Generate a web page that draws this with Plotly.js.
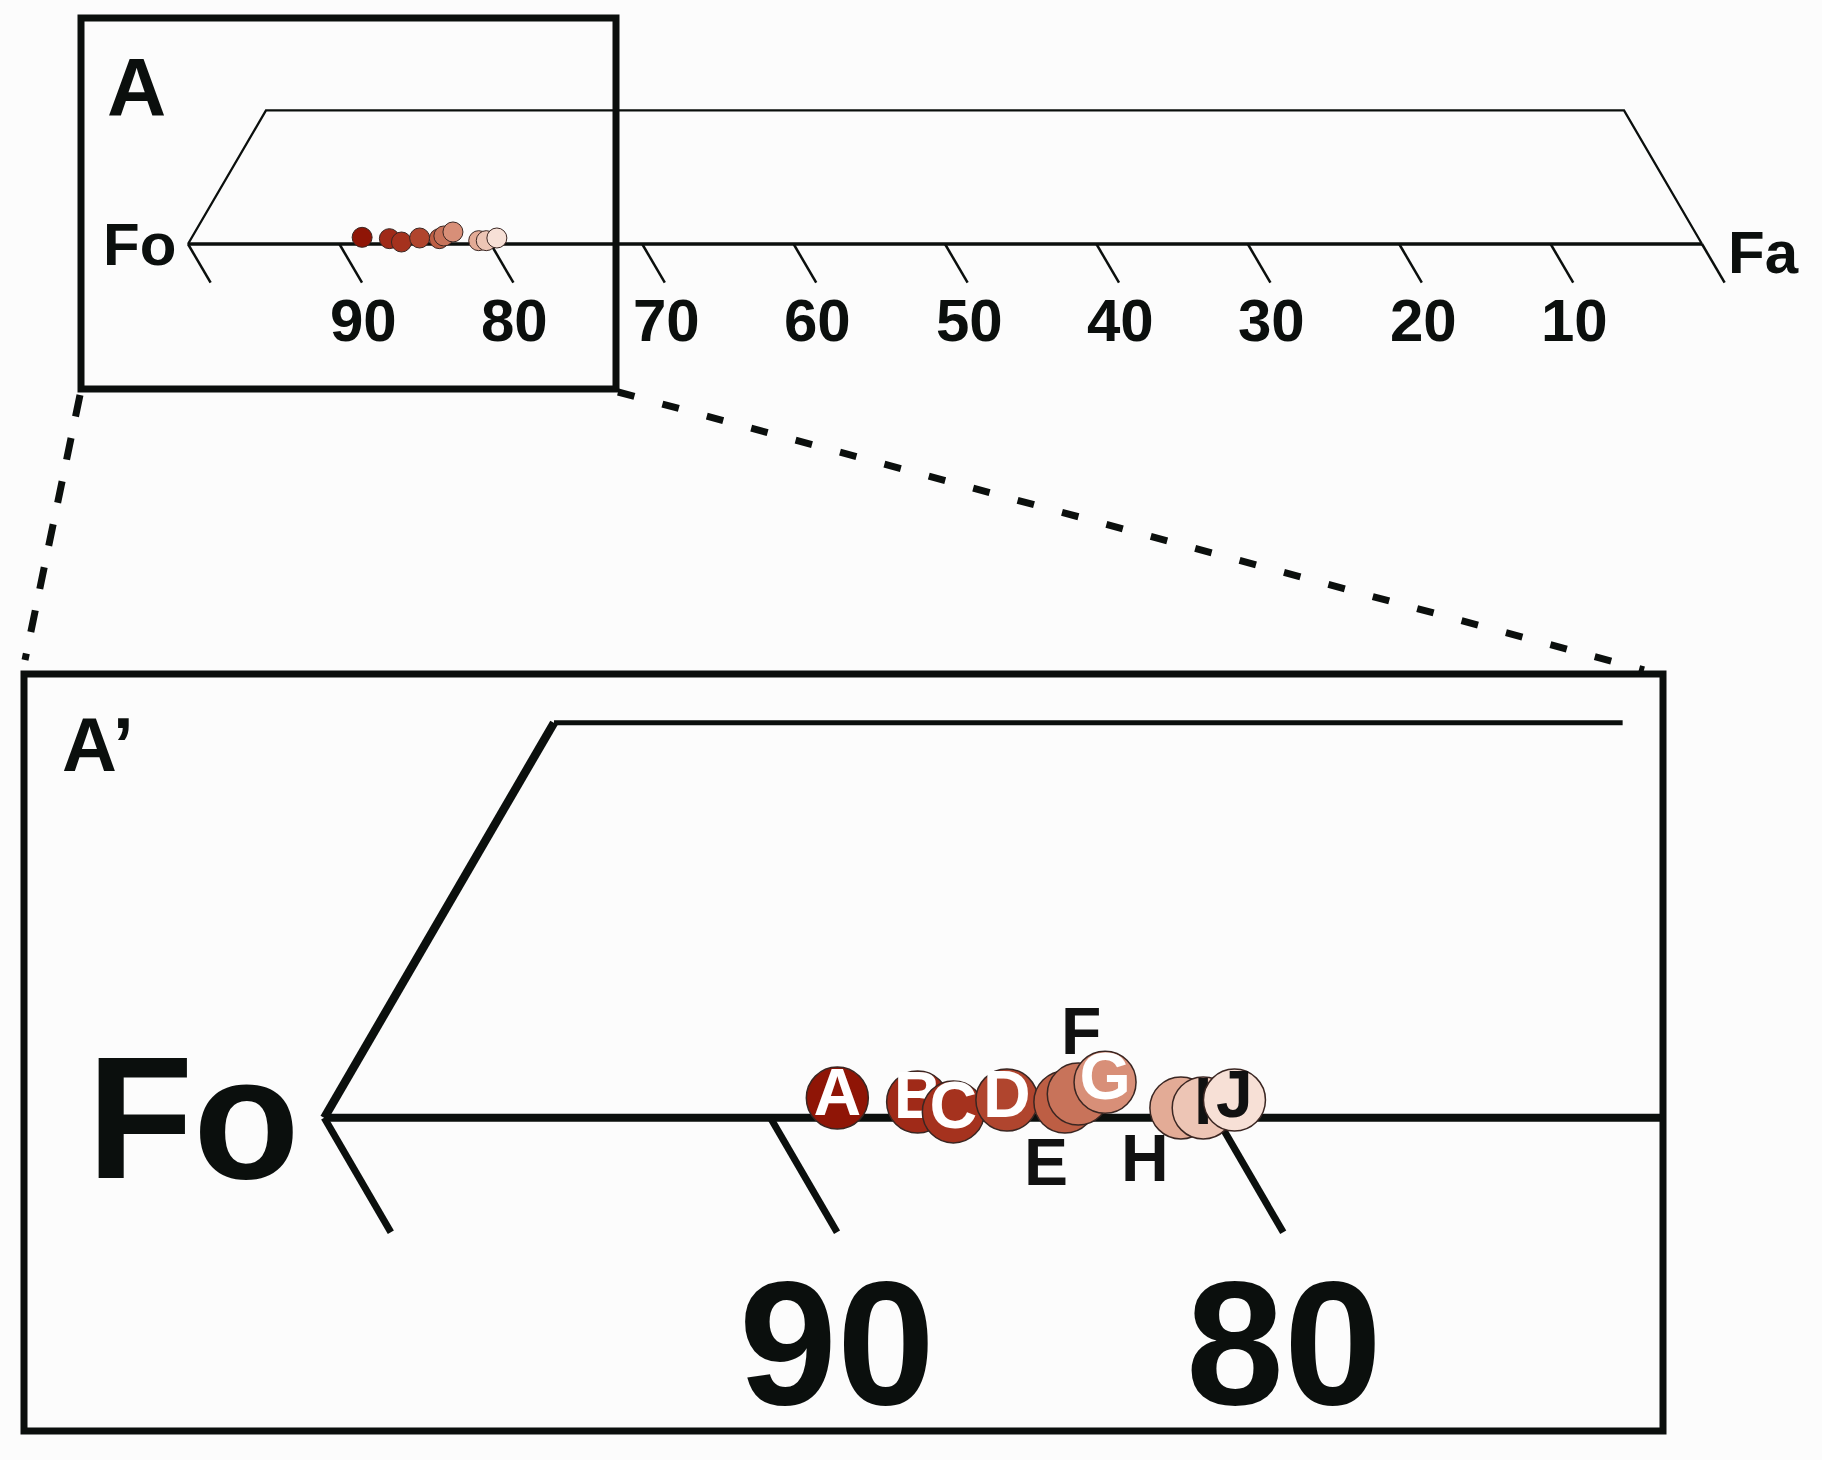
<!DOCTYPE html>
<html>
<head>
<meta charset="utf-8">
<script src="https://cdn.plot.ly/plotly-3.0.1.min.js"></script>
<style>
  html, body { margin: 0; padding: 0; background: #fcfcfc; }
  #chart { width: 1822px; height: 1460px; }
</style>
</head>
<body>
<div id="chart"></div>
<script>
/* Olivine Fo–Fa line with an enlarged window (A') around Fo 70–100 */

// samples: olivine composition (Fo mol%) and small vertical lift used to un-stack them
const sampleLabels = ['A', 'B', 'C', 'D', 'E', 'F', 'G', 'H', 'I', 'J'];
const sampleFo     = [88.5, 86.7, 85.9, 84.7, 83.4, 83.1, 82.5, 80.8, 80.3, 79.6];
const sampleLift   = [0.05, 0.04, 0.015, 0.045, 0.04, 0.06, 0.09, 0.025, 0.025, 0.045];
const sampleColors = ['#8f1506', '#a02a18', '#a5321e', '#b0452e', '#bd5e44',
                      '#c8735a', '#d88f78', '#e3ab96', '#edc5b5', '#f7e0d6'];

// Fo axis ticks
const foTicks  = [100, 90, 80, 70, 60, 50, 40, 30, 20, 10, 0];
const foLabels = ['', '90', '80', '70', '60', '50', '40', '30', '20', '10', ''];

// letter styles in the enlarged panel: inside the circle, or pushed outside (px offset)
const labelInside = [true, true, true, true, false, false, true, false, true, true];
const labelShift  = [null, null, null, null, [-19, -60], [3, 63], null, [-36, -50], null, null];
const labelColor  = ['#fff', '#fff', '#fff', '#fff', '#111', '#111', '#fff', '#111', '#111', '#111'];

const W = 1822, H = 1460;
const SKEW = 5.15;    // Fo units the slanted sides lean per unit of height
const TICK_H = 0.29;  // tick length (height units)
const ZOOM_END = 70;  // right edge of the enlarged window
const ZOOM_TOP_END = 70.9;

const INK = '#0b0f0d';
const FONT = 'Liberation Sans, Arial, sans-serif';

// pixel anchors for the two panels
const TOP  = { fo100: 188,   perFo: 15.14, base: 244,    perY: 133.6, dom: [0.55, 1] };
const ZOOM = { fo100: 324.2, perFo: 44.62, base: 1117.8, perY: 395,   dom: [0, 0.54] };

function ranges(p) {
  const pxTop = H * (1 - p.dom[1]), pxBot = H * (1 - p.dom[0]);
  return {
    x: [100 + p.fo100 / p.perFo, 100 - (W - p.fo100) / p.perFo],
    y: [(p.base - pxBot) / p.perY, (p.base - pxTop) / p.perY],
  };
}
const px = x => x / W;
const py = y => 1 - y / H;

function tickTrace(ticks, xa, ya, width) {
  const x = [], y = [];
  ticks.forEach(v => { x.push(v, v - SKEW * TICK_H, null); y.push(0, -TICK_H, null); });
  return { x, y, xaxis: xa, yaxis: ya, mode: 'lines', hoverinfo: 'skip',
           line: { color: INK, width } };
}
function line(x, y, xa, ya, width) {
  return { x, y, xaxis: xa, yaxis: ya, mode: 'lines', hoverinfo: 'skip',
           line: { color: INK, width } };
}

const letterFont = c => ({ family: FONT, size: 66, color: c, weight: 'bold' });

const traces = [
  // ---- full Fo–Fa line (A)
  line([100, 0], [0, 0], 'x', 'y', 3.5),
  line([100, 100 - SKEW, SKEW, 0], [0, 1, 1, 0], 'x', 'y', 2.3),
  tickTrace(foTicks, 'x', 'y', 2.5),
  {
    x: sampleFo, y: sampleLift, xaxis: 'x', yaxis: 'y', mode: 'markers',
    marker: { size: 20, color: sampleColors, line: { color: '#3a2622', width: 1 } },
    hoverinfo: 'skip',
  },
  // ---- enlarged window (A')
  line([100, ZOOM_END], [0, 0], 'x2', 'y2', 8),
  line([100, 100 - SKEW], [0, 1], 'x2', 'y2', 8.5),
  line([100 - SKEW, ZOOM_TOP_END], [1, 1], 'x2', 'y2', 5),
  tickTrace(foTicks.filter(v => v > ZOOM_END + 2), 'x2', 'y2', 7),
  // one trace per sample so each letter sits under the next circle
  ...sampleFo.map((fo, i) => ({
    x: [fo], y: [sampleLift[i]], xaxis: 'x2', yaxis: 'y2',
    mode: labelInside[i] ? 'markers+text' : 'markers',
    text: [sampleLabels[i]], textposition: 'middle center',
    textfont: letterFont(labelColor[i]),
    marker: { size: 62, color: sampleColors[i], line: { color: '#3a2622', width: 1.5 } },
    cliponaxis: false, hoverinfo: 'skip',
  })),
];

const rTop = ranges(TOP), rZoom = ranges(ZOOM);
const hidden = { visible: false, fixedrange: true };

function tickLabels(xref, yref, size, xshift, ticks) {
  return foTicks.map((v, i) => ({
    x: v, y: -0.57, xref, yref, text: foLabels[i], showarrow: false,
    xshift, xanchor: 'center', yanchor: 'middle',
    font: { family: FONT, size, color: INK, weight: 'bold' },
  })).filter(a => a.text && ticks.includes(a.x));
}

// letters placed beside their circles (E, F, H)
const outsideLetters = sampleLabels.map((t, i) => labelInside[i] ? null : ({
  x: sampleFo[i], y: sampleLift[i], xref: 'x2', yref: 'y2', text: t, showarrow: false,
  xanchor: 'center', yanchor: 'middle', xshift: labelShift[i][0], yshift: labelShift[i][1],
  font: letterFont(labelColor[i]),
})).filter(Boolean);

const annotations = [
  ...tickLabels('x', 'y', 60, 24, foTicks),
  ...tickLabels('x2', 'y2', 176, 67, foTicks.filter(v => v > ZOOM_END + 2)),
  ...outsideLetters,
  { x: 100, y: 0, xref: 'x', yref: 'y', text: 'Fo', showarrow: false, xanchor: 'right',
    yanchor: 'middle', xshift: -10, font: { family: FONT, size: 60, color: INK, weight: 'bold' } },
  { x: 0, y: 0, xref: 'x', yref: 'y', text: 'Fa', showarrow: false, xanchor: 'left',
    yanchor: 'middle', xshift: 24, yshift: -8, font: { family: FONT, size: 60, color: INK, weight: 'bold' } },
  { x: 100, y: 0, xref: 'x2', yref: 'y2', text: 'Fo', showarrow: false, xanchor: 'right',
    yanchor: 'middle', xshift: -22, font: { family: FONT, size: 174, color: INK, weight: 'bold' } },
  { x: px(136), y: py(86), xref: 'paper', yref: 'paper', text: 'A', showarrow: false,
    xanchor: 'center', yanchor: 'middle', font: { family: FONT, size: 82, color: INK, weight: 'bold' } },
  { x: px(60), y: py(744), xref: 'paper', yref: 'paper', text: 'A’', showarrow: false,
    xanchor: 'left', yanchor: 'middle', font: { family: FONT, size: 76, color: INK, weight: 'bold' } },
];

const box = (x0, y0, x1, y1, w) => ({
  type: 'rect', xref: 'paper', yref: 'paper', layer: 'above',
  x0: px(x0), x1: px(x1), y0: py(y0), y1: py(y1), line: { color: INK, width: w },
});
const dashed = (x0, y0, x1, y1, dash) => ({
  type: 'line', xref: 'paper', yref: 'paper', layer: 'above',
  x0: px(x0), x1: px(x1), y0: py(y0), y1: py(y1), line: { color: INK, width: 7, dash },
});

const layout = {
  width: W, height: H,
  margin: { t: 0, b: 0, l: 0, r: 0 },
  paper_bgcolor: '#fcfcfc', plot_bgcolor: 'rgba(0,0,0,0)',
  showlegend: false,
  xaxis:  { ...hidden, domain: [0, 1], range: rTop.x },
  yaxis:  { ...hidden, domain: TOP.dom, range: rTop.y },
  xaxis2: { ...hidden, domain: [0, 1], range: rZoom.x, anchor: 'y2' },
  yaxis2: { ...hidden, domain: ZOOM.dom, range: rZoom.y, anchor: 'x2' },
  annotations,
  shapes: [
    box(81, 18, 616, 389, 7),
    box(24, 674, 1663, 1431, 7),
    dashed(80, 395, 25, 660, '22px,22px'),
    dashed(618, 392, 1644, 670, '17px,29px'),
  ],
};

Plotly.newPlot('chart', traces, layout, { displayModeBar: false, staticPlot: true });
</script>
</body>
</html>
